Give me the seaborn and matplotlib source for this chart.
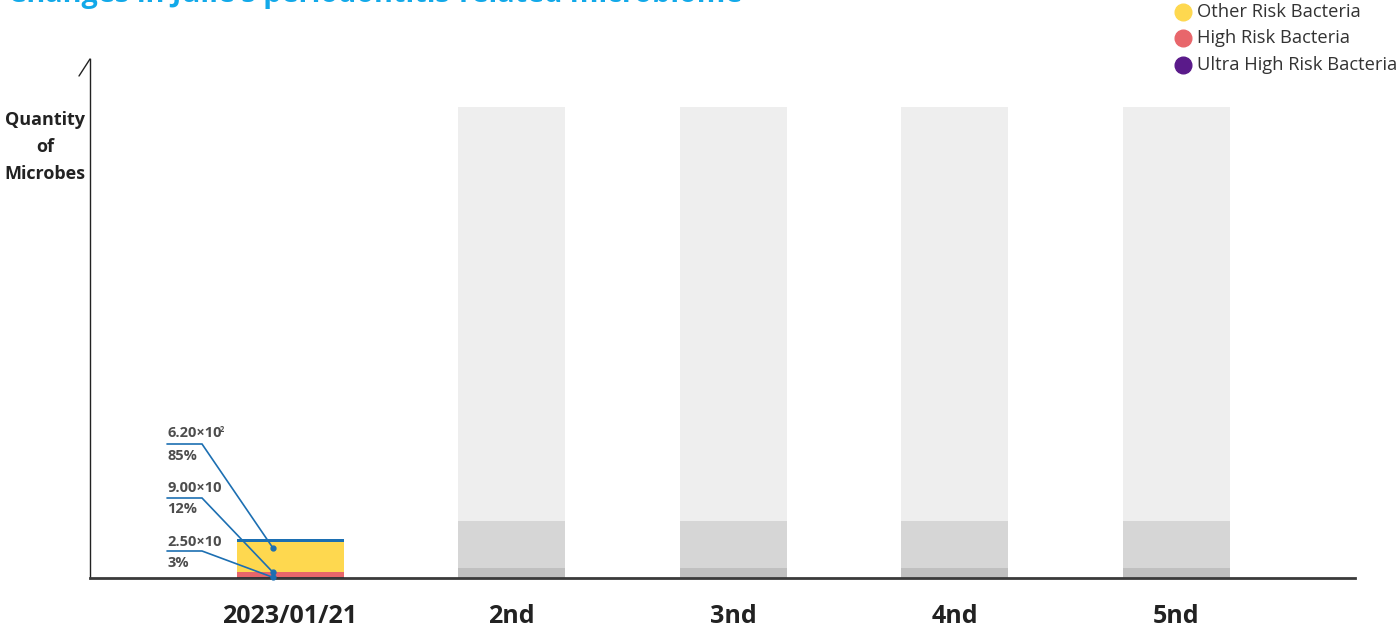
import matplotlib
matplotlib.use("Agg")
import matplotlib.pyplot as plt
from matplotlib.lines import Line2D
import seaborn as sns
import pandas as pd
import numpy as np

# ---------------- data ----------------
categories = ["2023/01/21", "2nd", "3nd", "4nd", "5nd"]
series_names = ["Other Risk Bacteria", "High Risk Bacteria", "Ultra High Risk Bacteria"]
series_colors = ["#FED84F", "#E8666B", "#5A1A8A"]
sample_other = 620
sample_high = 90
sample_ultra = 25
sample_labels = ["6.20×10", "9.00×10", "2.50×10"]
sample_exps = ["2", "", ""]
sample_pcts = ["85%", "12%", "3%"]
placeholder_dark = 200
placeholder_mid = 960
placeholder_light = 8450
title = "Changes in Julie's periodontitis-related microbiome"
ylabel = "Quantity\nof\nMicrobes"

sns.set_theme(style="white")
plt.rcParams["font.family"] = ["Open Sans", "DejaVu Sans"]

W, H = 1400, 630
fig = plt.figure(figsize=(14, 6.3), dpi=100)
ax_left, ax_right, ax_bottom, ax_top = 90, 1355, 578, 59
ax = fig.add_axes([ax_left / W, (H - ax_bottom) / H, (ax_right - ax_left) / W,
                   (ax_bottom - ax_top) / H])

ymax = 10600
step = 221.5
x0pix = 290
bw = 107 / step

# stacked layers as cumulative heights
ph_cum = [placeholder_dark + placeholder_mid + placeholder_light,
          placeholder_dark + placeholder_mid, placeholder_dark]
ph_colors = ["#EEEEEE", "#D6D6D6", "#C0C0C0"]
sm_cum = [sample_ultra + sample_high + sample_other, sample_ultra + sample_high, sample_ultra]

rows = []
for layer in range(3):
    for i, c in enumerate(categories):
        if i == 0:
            rows.append(dict(cat=c, layer=layer, val=sm_cum[layer], color=series_colors[layer]))
        else:
            rows.append(dict(cat=c, layer=layer, val=ph_cum[layer], color=ph_colors[layer]))
df = pd.DataFrame(rows)

for layer in range(3):
    d = df[df.layer == layer]
    sns.barplot(data=d, x="cat", y="val", hue="cat", order=categories, hue_order=categories,
                palette=dict(zip(d.cat, d.color)), width=bw, legend=False, ax=ax,
                saturation=1, linewidth=0, errorbar=None, dodge=False)

ax.set_ylim(0, ymax)
ax.set_xlim((ax_left - x0pix) / step, (ax_right - x0pix) / step)
u = ymax / (ax_bottom - ax_top)  # data units per pixel

# very dark bottom of ultra segment
ax.bar(0, 1.0 * u, width=bw, color="#2A1A3A", linewidth=0)

# blue cap on the sample bar
total = sm_cum[0]
ax.bar(0, 3 * u, bottom=total, width=bw, color="#1C6FB2", linewidth=0)

# annotations
def py(p):
    return (ax_bottom - p) * u

def px(p):
    return (p - x0pix) / step

lead_col = "#1C6FB2"
txt_col = "#4D4D4D"
dots_y = [sample_ultra + sample_high + sample_other * 0.8, sample_ultra + sample_high, sample_ultra / 2]
line_y = [444, 498, 551]
lab_y = [433, 488, 542]
pct_y = [456, 509, 563]
for k in range(3):
    ax.plot([px(167), px(202), px(273)], [py(line_y[k]), py(line_y[k]), dots_y[k]],
            color=lead_col, lw=1.2, solid_joinstyle="miter", clip_on=False, zorder=5)
    ax.plot([px(273)], [dots_y[k]], "o", color=lead_col, ms=3.5, zorder=6, clip_on=False)
    ax.text(px(167), py(lab_y[k]), sample_labels[k], fontsize=10.5, fontweight="bold",
            color=txt_col, ha="left", va="center")
    ax.text(px(167), py(pct_y[k]), sample_pcts[k], fontsize=10.5, fontweight="bold",
            color=txt_col, ha="left", va="center")
    if sample_exps[k]:
        ax.text(px(220), py(429), sample_exps[k], fontsize=5.5, fontweight="bold",
                color=txt_col, ha="left", va="center")

# axes styling
for s in ["top", "right"]:
    ax.spines[s].set_visible(False)
ax.spines["left"].set_color("#222222")
ax.spines["left"].set_linewidth(1.0)
ax.spines["bottom"].set_color("#3A3A3A")
ax.spines["bottom"].set_linewidth(2.0)
ax.set_yticks([])
ax.set_xlabel("")
ax.set_ylabel("")
ax.tick_params(axis="x", length=0, pad=19)
ax.set_xticks(range(len(categories)))
ax.set_xticklabels(categories, fontsize=18, fontweight="bold", color="#222222")

# slanted arrow tick on y axis
fig.add_artist(Line2D([79 / W, 90 / W], [1 - 76 / H, 1 - 59 / H], color="#222222", lw=1.0))

# y label
fig.text(45 / W, 1 - 147 / H, ylabel, ha="center", va="center", fontsize=13,
         fontweight="bold", color="#222222", linespacing=1.62)

# title (clipped at top, as in the reference)
fig.text(8 / W, 1 - 2 / H, title, ha="left", va="baseline", fontsize=20.8,
         fontweight="bold", color="#12A9E9")

# legend
leg_y = [12, 38, 65]
for k in range(3):
    fig.add_artist(Line2D([1183 / W], [1 - leg_y[k] / H], marker="o", ms=12,
                          color=series_colors[k], lw=0))
    fig.text(1197 / W, 1 - leg_y[k] / H, series_names[k], ha="left", va="center",
             fontsize=13.2, color="#333333")

fig.savefig("out.png", dpi=100)
